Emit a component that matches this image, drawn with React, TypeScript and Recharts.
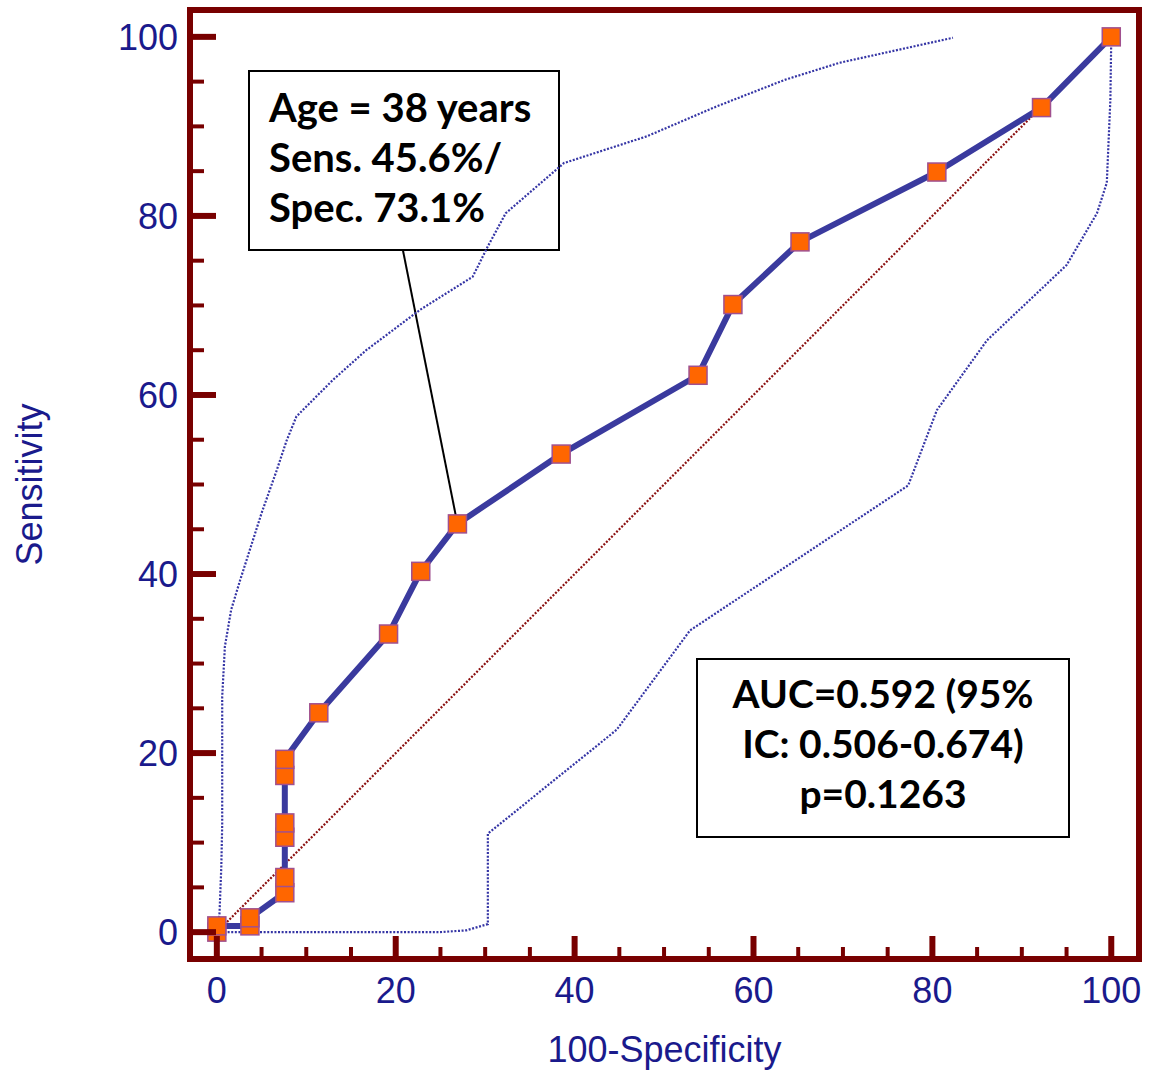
import { LineChart, Line, XAxis, YAxis, ReferenceArea, ReferenceLine, Label } from "recharts";

// ROC curve points (100-Specificity, Sensitivity)
const rocX = [0, 0, 3.7, 3.7, 7.6, 7.6, 7.6, 7.6, 7.6, 7.6, 11.4, 19.2, 22.8, 26.9, 38.5, 53.8, 57.7, 65.2, 80.5, 92.2, 100];
const rocY = [0, 0.7, 0.7, 1.6, 4.4, 6.1, 10.6, 12.2, 17.5, 19.3, 24.5, 33.3, 40.3, 45.6, 53.4, 62.2, 70.1, 77.1, 84.9, 92.1, 100];

// 95% confidence bounds
const upperX = [0, 0.1, 0.3, 0.5, 0.6, 0.6, 0.9, 1.6, 2.6, 5.0, 6.7, 7.8, 8.9, 13.0, 16.7, 22.7, 28.6, 30.3, 32.3, 38.8, 48.1, 55.8, 63.5, 69.6, 82.3];
const upperY = [0, 0.6, 2.1, 7.3, 12.0, 26.3, 31.9, 36.0, 39.3, 46.8, 51.6, 54.9, 57.6, 61.7, 65.0, 69.5, 73.2, 76.6, 80.3, 85.9, 88.9, 92.2, 95.2, 97.1, 99.9];
const lowerX = [0, 24.9, 27.9, 30.3, 30.3, 44.7, 52.9, 77.3, 80.5, 86.1, 95.0, 98.4, 99.5, 99.9, 100];
const lowerY = [0, 0, 0.2, 0.9, 11.0, 22.6, 33.7, 49.9, 58.3, 66.1, 74.5, 80.3, 83.7, 93.0, 100];

// chance line
const diagX = [0, 100];
const diagY = [0, 100];

const ticks = [0, 5, 10, 15, 20, 25, 30, 35, 40, 45, 50, 55, 60, 65, 70, 75, 80, 85, 90, 95, 100];

// selected criterion
const cutX = 26.9;
const cutY = 45.6;

const ageLines = ["Age = 38 years", "Sens. 45.6%/", "Spec. 73.1%"];
const aucLines = ["AUC=0.592 (95%", "IC: 0.506-0.674)", "p=0.1263"];

const FRAME = "#780000";
const NAVY = "#1a1a8c";
const LINE = "#3a3a9e";
const CI = "#3535a5";
const AXIS_FONT = "'Liberation Sans', Arial, sans-serif";
const BOX_FONT = "Lato, 'Open Sans', sans-serif";

const pts = (xs: number[], ys: number[]) => xs.map((x, i) => ({ x, y: ys[i] }));

const XTick = ({ x, y, payload }: any) => {
  const major = payload.value % 20 === 0;
  return (
    <g>
      <line x1={x} x2={x} y1={y} y2={y - (major ? 23 : 12)} stroke={FRAME} strokeWidth={major ? 6 : 4} />
      {major && (
        <text x={x} y={y + 44} textAnchor="middle" fontSize={36} fill={NAVY} fontFamily={AXIS_FONT}>
          {payload.value}
        </text>
      )}
    </g>
  );
};

const YTick = ({ x, y, payload }: any) => {
  const major = payload.value % 20 === 0;
  return (
    <g>
      <line x1={x} x2={x + (major ? 26 : 14)} y1={y} y2={y} stroke={FRAME} strokeWidth={major ? 6 : 4} />
      {major && (
        <text x={x - 12} y={y} dy="0.36em" textAnchor="end" fontSize={36} fill={NAVY} fontFamily={AXIS_FONT}>
          {payload.value}
        </text>
      )}
    </g>
  );
};

const Marker = (props: any) => {
  const { cx, cy, index } = props;
  return <rect key={index} x={cx - 9} y={cy - 9} width={18} height={18} fill="#ff6600" stroke="#a0508f" strokeWidth={1.5} />;
};

export default function App() {
  return (
    <div style={{ position: "absolute", left: 0, top: 0, width: 1149, height: 1072, background: "#fff" }}>
      <svg width={1149} height={1072} style={{ position: "absolute", left: 0, top: 0 }}>
        <rect x={249} y={71} width={310} height={179} fill="#fff" stroke="#000" strokeWidth={2} />
        <text fontFamily={BOX_FONT} fontWeight={700} fontSize={40} fill="#000">
          {ageLines.map((t, i) => (
            <tspan key={t} x={269} y={122 + i * 50}>{t}</tspan>
          ))}
        </text>
        <rect x={697} y={659} width={372} height={178} fill="#fff" stroke="#000" strokeWidth={2} />
        <text fontFamily={BOX_FONT} fontWeight={700} fontSize={39} fill="#000" textAnchor="middle">
          {aucLines.map((t, i) => (
            <tspan key={t} x={883} y={708 + i * 50}>{t}</tspan>
          ))}
        </text>
      </svg>
      <LineChart width={1149} height={1072} margin={{ top: 10, right: 10, left: 130, bottom: 83 }}>
        <XAxis
          type="number"
          dataKey="x"
          domain={[-3, 103.1]}
          allowDataOverflow
          ticks={ticks}
          interval={0}
          axisLine={false}
          tickLine={false}
          tickSize={0}
          tickMargin={0}
          tick={<XTick />}
          height={30}
        >
          <Label
            content={({ viewBox }: any) => (
              <text x={viewBox.x + viewBox.width / 2} y={viewBox.y + 103} textAnchor="middle" fontSize={36} fill={NAVY} fontFamily={AXIS_FONT}>
                100-Specificity
              </text>
            )}
          />
        </XAxis>
        <YAxis
          type="number"
          dataKey="y"
          domain={[-3, 103]}
          allowDataOverflow
          ticks={ticks}
          interval={0}
          axisLine={false}
          tickLine={false}
          tickSize={0}
          tickMargin={0}
          tick={<YTick />}
          width={60}
        >
          <Label
            content={({ viewBox }: any) => {
              const cy = viewBox.y + viewBox.height / 2;
              return (
                <text x={42} y={cy} transform={`rotate(-90 42 ${cy})`} textAnchor="middle" fontSize={36} fill={NAVY} fontFamily={AXIS_FONT}>
                  Sensitivity
                </text>
              );
            }}
          />
        </YAxis>
        <ReferenceArea x1={-3} x2={103.1} y1={-3} y2={103} fill="none" stroke={FRAME} strokeWidth={6} ifOverflow="visible" />
        <ReferenceLine
          segment={[{ x: 20.8, y: 76.2 }, { x: cutX, y: cutY }]}
          stroke="#000"
          strokeWidth={2}
          ifOverflow="visible"
        />
        <Line data={pts(diagX, diagY)} dataKey="y" type="linear" stroke="#8b1010" strokeWidth={2.2} strokeDasharray="2 1.6" dot={false} activeDot={false} isAnimationActive={false} />
        <Line data={pts(upperX, upperY)} dataKey="y" type="linear" stroke={CI} strokeWidth={2.2} strokeDasharray="2 1.6" dot={false} activeDot={false} isAnimationActive={false} />
        <Line data={pts(lowerX, lowerY)} dataKey="y" type="linear" stroke={CI} strokeWidth={2.2} strokeDasharray="2 1.6" dot={false} activeDot={false} isAnimationActive={false} />
        <Line data={pts(rocX, rocY)} dataKey="y" type="linear" stroke={LINE} strokeWidth={6} strokeLinejoin="round" dot={<Marker />} activeDot={false} isAnimationActive={false} />
      </LineChart>
    </div>
  );
}
